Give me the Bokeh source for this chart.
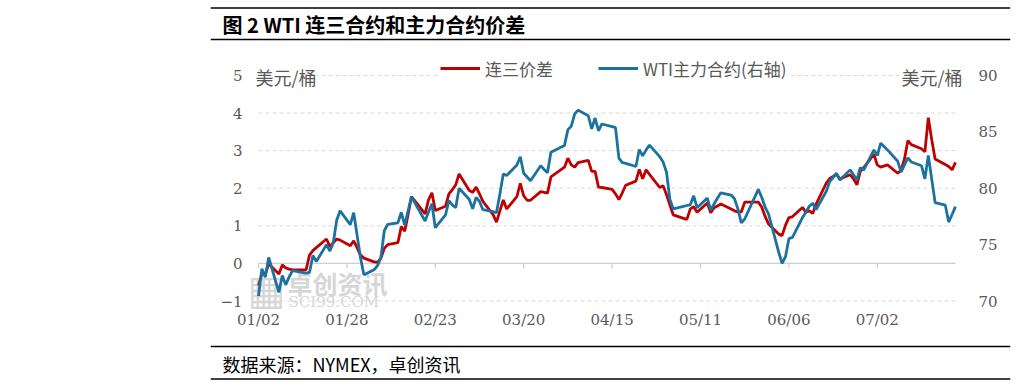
import pandas as pd
from bokeh.plotting import figure
from bokeh.models import (Range1d, LinearAxis, FixedTicker, DatetimeTickFormatter, Span,
                          Label, Legend, LegendItem)
from bokeh.embed import file_html
from bokeh.resources import INLINE

# ---------------- data ----------------
title_text = "图 2 WTI 连三合约和主力合约价差"
source_text = "数据来源：NYMEX，卓创资讯"
series_names = ["连三价差", "WTI主力合约(右轴)"]
unit_label = "美元/桶"
tick_labels = ["01/02", "01/28", "02/23", "03/20", "04/15", "05/11", "06/06", "07/02"]
year = 2024

dates = [
    "01-02", "01-03", "01-04", "01-05", "01-08", "01-09", "01-10", "01-11", "01-12", "01-16", "01-17",
    "01-18", "01-19", "01-22", "01-23", "01-24", "01-25", "01-26", "01-29", "01-30", "01-31",
    "02-01", "02-02", "02-05", "02-06", "02-07", "02-08", "02-09", "02-12", "02-13", "02-14", "02-15",
    "02-16", "02-20", "02-21", "02-22", "02-23", "02-26", "02-27", "02-28", "02-29",
    "03-01", "03-04", "03-05", "03-06", "03-07", "03-08", "03-11", "03-12", "03-13", "03-14", "03-15",
    "03-18", "03-19", "03-20", "03-21", "03-22", "03-25", "03-26", "03-27", "03-28",
    "04-01", "04-02", "04-03", "04-04", "04-05", "04-08", "04-09", "04-10", "04-11", "04-12", "04-15",
    "04-16", "04-17", "04-18", "04-19", "04-22", "04-23", "04-24", "04-25", "04-26", "04-29", "04-30",
    "05-01", "05-02", "05-03", "05-06", "05-07", "05-08", "05-09", "05-10", "05-13", "05-14", "05-15",
    "05-16", "05-17", "05-20", "05-21", "05-22", "05-23", "05-24", "05-28", "05-29", "05-30", "05-31",
    "06-03", "06-04", "06-05", "06-06", "06-07", "06-10", "06-11", "06-12", "06-13", "06-14", "06-17",
    "06-18", "06-20", "06-21", "06-24", "06-25", "06-26", "06-27", "06-28",
    "07-01", "07-02", "07-03", "07-05", "07-08", "07-09", "07-10", "07-11", "07-12", "07-15", "07-16",
    "07-17", "07-18", "07-19", "07-22", "07-23", "07-24", "07-25",
]

spread = [
    -0.59, -0.28, -0.28, -0.01, -0.28, -0.04, -0.12, -0.15, -0.17, -0.17, 0.22,
    0.34, 0.42, 0.65, 0.45, 0.55, 0.65, 0.62, 0.47, 0.60, 0.42,
    0.22, 0.14, 0.04, 0.03, 0.14, 0.40, 0.50, 0.55, 0.98, 0.86, 1.30,
    1.78, 1.32, 1.69, 1.88, 1.41, 1.52, 1.85, 1.96, 2.09,
    2.38, 1.94, 1.89, 2.03, 1.85, 1.65, 1.30, 1.10, 1.40, 1.69, 1.45,
    1.78, 2.13, 1.80, 1.68, 1.68, 1.91, 1.89, 1.87, 2.30,
    2.56, 2.80, 2.62, 2.56, 2.68, 2.74, 2.45, 2.45, 2.03, 2.02, 1.97,
    1.85, 1.70, 1.88, 2.08, 2.19, 2.50, 2.25, 2.49, 2.37, 2.02, 2.07,
    1.83, 1.55, 1.29, 1.20, 1.17, 1.45, 1.51, 1.36, 1.61, 1.35, 1.48,
    1.53, 1.58, 1.45, 1.40, 1.37, 1.37, 1.63, 1.63, 1.50, 1.25, 1.05,
    0.78, 0.74, 1.02, 1.22, 1.24, 1.49, 1.36, 1.40, 1.33, 1.58, 2.14,
    2.26, 2.37, 2.25, 2.36, 2.25, 2.09, 2.45, 2.55,
    2.90, 2.62, 2.56, 2.62, 2.40, 2.48, 2.78, 3.27, 3.16, 3.05, 2.97,
    3.88, 3.30, 2.78, 2.63, 2.58, 2.49, 2.69,
]

wti_main = [
    70.43, 72.87, 72.10, 73.87, 70.77, 72.27, 71.43, 72.13, 72.70, 72.47, 72.53,
    74.03, 73.50, 75.00, 74.43, 75.17, 77.17, 78.00, 76.77, 77.83, 75.83,
    73.83, 72.33, 72.77, 73.13, 73.87, 76.23, 76.80, 76.93, 77.87, 76.73, 78.00,
    79.23, 77.10, 77.90, 78.63, 76.50, 77.63, 78.90, 78.53, 78.27,
    80.00, 79.00, 78.17, 79.20, 78.83, 78.10, 77.93, 77.83, 79.50, 81.27, 81.13,
    82.07, 82.80, 81.33, 81.00, 80.67, 82.00, 81.67, 81.37, 83.20,
    83.80, 85.20, 85.50, 86.60, 86.93, 86.43, 85.27, 86.23, 85.10, 85.70, 85.47,
    85.37, 82.67, 82.27, 82.20, 81.93, 83.43, 82.87, 83.40, 83.83, 82.80, 82.33,
    81.43, 79.00, 78.17, 78.40, 78.47, 78.53, 79.33, 78.27, 79.13, 78.07, 78.60,
    79.13, 79.60, 79.40, 79.07, 78.17, 76.93, 77.27, 79.90, 79.20, 78.33, 77.73,
    74.33, 73.33, 73.93, 75.53, 75.63, 77.40, 77.87, 78.40, 78.67, 78.10, 79.73,
    80.60, 81.33, 80.73, 81.63, 81.20, 80.73, 81.83, 81.60,
    83.40, 82.90, 84.00, 83.40, 82.40, 81.43, 82.07, 82.70, 82.33, 82.00, 80.83,
    82.90, 80.83, 78.73, 78.50, 77.00, 77.67, 78.37,
]

left_ticks = [-1, 0, 1, 2, 3, 4, 5]
right_ticks = [70, 75, 80, 85, 90]

# ---------------- styling / geometry ----------------
RED = "#C00000"
BLUE = "#1B72A0"
GRID = "#D9D9D9"
TXT = "#595959"
CJK = "Noto Sans CJK SC"
NUM = "DejaVu Serif"
W, H = 1022, 387
FRAME_L, FRAME_R, FRAME_T, FRAME_B = 210, 1010, 5, 382      # drawing frame (page px)
PLOT_L, PLOT_R, PLOT_T, PLOT_B = 258, 955, 75, 300.5         # chart area (page px)

x = pd.to_datetime([f"{year}-{d}" for d in dates])
tick_dates = pd.to_datetime([f"{year}-{t.replace('/', '-')}" for t in tick_labels])
x_start, x_end = x[0], x[-1]

ppd = (PLOT_R - PLOT_L) / ((x_end - x_start).days)
xr_start = x_start - pd.Timedelta(days=(PLOT_L - FRAME_L) / ppd)
xr_end = x_end + pd.Timedelta(days=(FRAME_R - PLOT_R) / ppd)

lmin, lmax = left_ticks[0], left_ticks[-1]
rmin, rmax = right_ticks[0], right_ticks[-1]
ppu = (PLOT_B - PLOT_T) / (lmax - lmin)
y_lo = lmin - (FRAME_B - PLOT_B) / ppu
y_hi = lmax + (PLOT_T - FRAME_T) / ppu
to_right = lambda v: rmin + (v - lmin) * (rmax - rmin) / (lmax - lmin)

p = figure(width=W, height=H, output_backend="svg", toolbar_location=None,
           x_axis_type="datetime", x_range=Range1d(xr_start, xr_end), y_range=Range1d(y_lo, y_hi),
           min_border_left=FRAME_L, min_border_right=W - FRAME_R,
           min_border_top=FRAME_T, min_border_bottom=H - FRAME_B)
p.extra_y_ranges = {"right": Range1d(to_right(y_lo), to_right(y_hi)),
                    "py": Range1d(FRAME_B, FRAME_T)}
p.extra_x_ranges = {"px": Range1d(FRAME_L, FRAME_R)}
p.outline_line_color = None
p.grid.visible = False

# left axis (labels pulled inside the frame)
p.yaxis.ticker = FixedTicker(ticks=left_ticks)
p.yaxis.axis_line_color = None
p.yaxis.major_tick_line_color = None
p.yaxis.minor_tick_line_color = None
p.yaxis.major_label_standoff = -38
p.yaxis.major_label_text_font = NUM
p.yaxis.major_label_text_font_size = "15px"
p.yaxis.major_label_text_color = TXT

# right axis
ra = LinearAxis(y_range_name="right", ticker=FixedTicker(ticks=right_ticks))
ra.axis_line_color = None
ra.major_tick_line_color = None
ra.minor_tick_line_color = None
ra.major_label_standoff = -38
ra.major_label_text_font = NUM
ra.major_label_text_font_size = "15px"
ra.major_label_text_color = TXT
p.add_layout(ra, "right")

# bottom axis
p.xaxis.ticker = FixedTicker(ticks=[t.value / 1e6 for t in tick_dates])
p.xaxis.formatter = DatetimeTickFormatter(days="%m/%d", months="%m/%d", years="%m/%d",
                                          hours="%m/%d", minutes="%m/%d", seconds="%m/%d")
p.xaxis.axis_line_color = None
p.xaxis.major_tick_line_color = None
p.xaxis.minor_tick_line_color = None
p.xaxis.major_label_standoff = -78
p.xaxis.major_label_text_font = NUM
p.xaxis.major_label_text_font_size = "15px"
p.xaxis.major_label_text_color = TXT

# watermark (under everything)
p.add_layout(Label(x=266, y=289, x_range_name="px", y_range_name="py", text="▦",
                   text_font="DejaVu Sans", text_font_size="40px", text_color="#D6D6D6",
                   text_align="center", text_baseline="middle", level="underlay"))
p.add_layout(Label(x=287, y=282, x_range_name="px", y_range_name="py", text="卓创资讯",
                   text_font=CJK, text_font_style="bold", text_font_size="25px",
                   text_color="#D6D6D6", text_baseline="middle", level="underlay"))
p.add_layout(Label(x=288, y=301, x_range_name="px", y_range_name="py", text="SCI99.COM",
                   text_font=NUM, text_font_size="15px", text_color="#D6D6D6",
                   text_baseline="middle", level="underlay"))

# dashed gridlines across the chart area only
n = len(left_ticks)
p.segment(x0=[x_start] * n, y0=left_ticks, x1=[x_end] * n, y1=left_ticks,
          line_color=GRID, line_dash="4 3", line_width=1)
# zero line as category axis with tick marks
p.segment(x0=[x_start], y0=[0], x1=[x_end], y1=[0], line_color="#CFCFCF", line_width=1.2)
p.segment(x0=tick_dates, y0=[0] * len(tick_dates), x1=tick_dates,
          y1=[-5 / ppu] * len(tick_dates), line_color="#CFCFCF", line_width=1.2)

r_red = p.line(x, spread, line_color=RED, line_width=2.8)
r_blue = p.line(x, wti_main, line_color=BLUE, line_width=2.8, y_range_name="right")

# unit labels
p.add_layout(Label(x=255, y=76, x_range_name="px", y_range_name="py", text=unit_label,
                   text_font=CJK, text_font_size="18px", text_color=TXT, text_align="left",
                   text_baseline="middle", background_fill_color="white"))
p.add_layout(Label(x=962, y=76, x_range_name="px", y_range_name="py", text=unit_label,
                   text_font=CJK, text_font_size="18px", text_color=TXT, text_align="right",
                   text_baseline="middle", background_fill_color="white"))

legend = Legend(items=[LegendItem(label=series_names[0], renderers=[r_red]),
                       LegendItem(label=series_names[1], renderers=[r_blue])],
                location=(440 - FRAME_L, FRAME_B - 80.5), orientation="horizontal",
                glyph_width=40, glyph_height=20, label_height=20, label_standoff=5,
                spacing=45, padding=0, margin=0, border_line_color=None,
                background_fill_color="white", background_fill_alpha=1.0,
                label_text_font=CJK, label_text_font_size="17px", label_text_color=TXT)
p.add_layout(legend)

# title and source with their rules
for yy in (7.5, 39, 346, 378.5):
    p.add_layout(Span(location=yy, dimension="width", y_range_name="py",
                      line_color="black", line_width=1.4))
p.add_layout(Label(x=222, y=24, x_range_name="px", y_range_name="py", text=title_text,
                   text_font=CJK, text_font_style="bold", text_font_size="20px",
                   text_color="black", text_baseline="middle"))
p.add_layout(Label(x=222, y=363, x_range_name="px", y_range_name="py", text=source_text,
                   text_font=CJK, text_font_size="18px", text_color="black",
                   text_baseline="middle"))

open("out.html", "w").write(file_html(p, INLINE))
